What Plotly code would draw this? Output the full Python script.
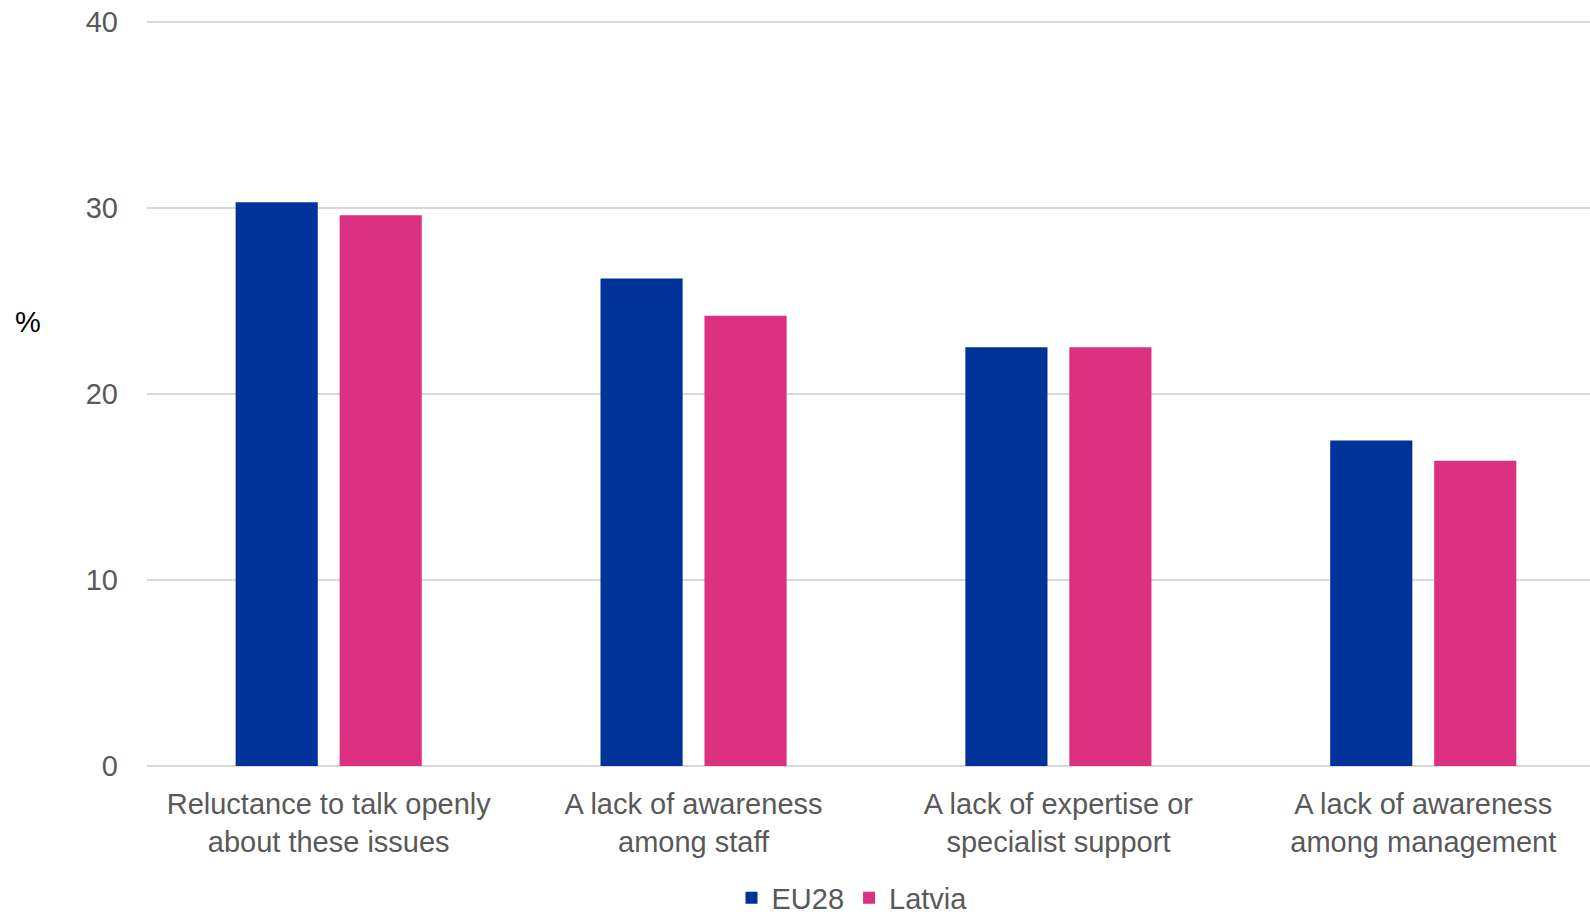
import plotly.graph_objects as go

categories = [
    "Reluctance to talk openly<br>about these issues",
    "A lack of awareness<br>among staff",
    "A lack of expertise or<br>specialist support",
    "A lack of awareness<br>among management",
]
eu28 = [30.3, 26.2, 22.5, 17.5]
latvia = [29.6, 24.2, 22.5, 16.4]
y_ticks = [0, 10, 20, 30, 40]

FONT = "Liberation Sans, Arial, sans-serif"
GRAY = "#595959"
SIZE = 29

fig = go.Figure()
fig.add_trace(go.Bar(x=categories, y=eu28, name="EU28",
                     marker=dict(color="#003399", line=dict(width=0))))
fig.add_trace(go.Bar(x=categories, y=latvia, name="Latvia",
                     marker=dict(color="#DC3080", line=dict(width=0))))

fig.update_layout(
    width=1590, height=914,
    paper_bgcolor="white", plot_bgcolor="white",
    margin=dict(l=147, r=0, t=18, b=148, autoexpand=False),
    barmode="group", bargap=0.43, bargroupgap=0.21,
    font=dict(family=FONT, size=SIZE, color=GRAY),
    showlegend=True,
    legend=dict(orientation="h", x=852 / 1590, xanchor="center", xref="container",
                y=(914 - 898) / 914, yanchor="middle", yref="container",
                font=dict(family=FONT, size=SIZE, color=GRAY),
                itemwidth=30, tracegroupgap=0, traceorder="normal"),
    annotations=[dict(text="%", x=28, y=322, xref="paper", yref="paper",
                      showarrow=False, font=dict(family=FONT, size=SIZE, color="black"))],
)
fig.layout.annotations[0].update(x=(28 - 147) / (1590 - 147), y=(766 - 322) / (766 - 18),
                                 xanchor="center", yanchor="middle")

fig.update_xaxes(showgrid=False, showline=False, zeroline=False, ticks="",
                 range=[-0.498, 3.457],
                 automargin=False, ticklabelstandoff=18,
                 tickfont=dict(family=FONT, size=SIZE, color=GRAY))
fig.update_yaxes(range=[0, 40.2], tickvals=y_ticks, showgrid=True, gridcolor="#D9D9D9",
                 gridwidth=2, zeroline=True, zerolinecolor="#D9D9D9", zerolinewidth=2,
                 showline=False, ticks="", ticklabelstandoff=28, automargin=False,
                 tickfont=dict(family=FONT, size=SIZE, color=GRAY))

fig.write_html("out.html", config={"displayModeBar": False},
               post_script="document.body.style.margin='0';document.body.style.overflow='hidden';")
